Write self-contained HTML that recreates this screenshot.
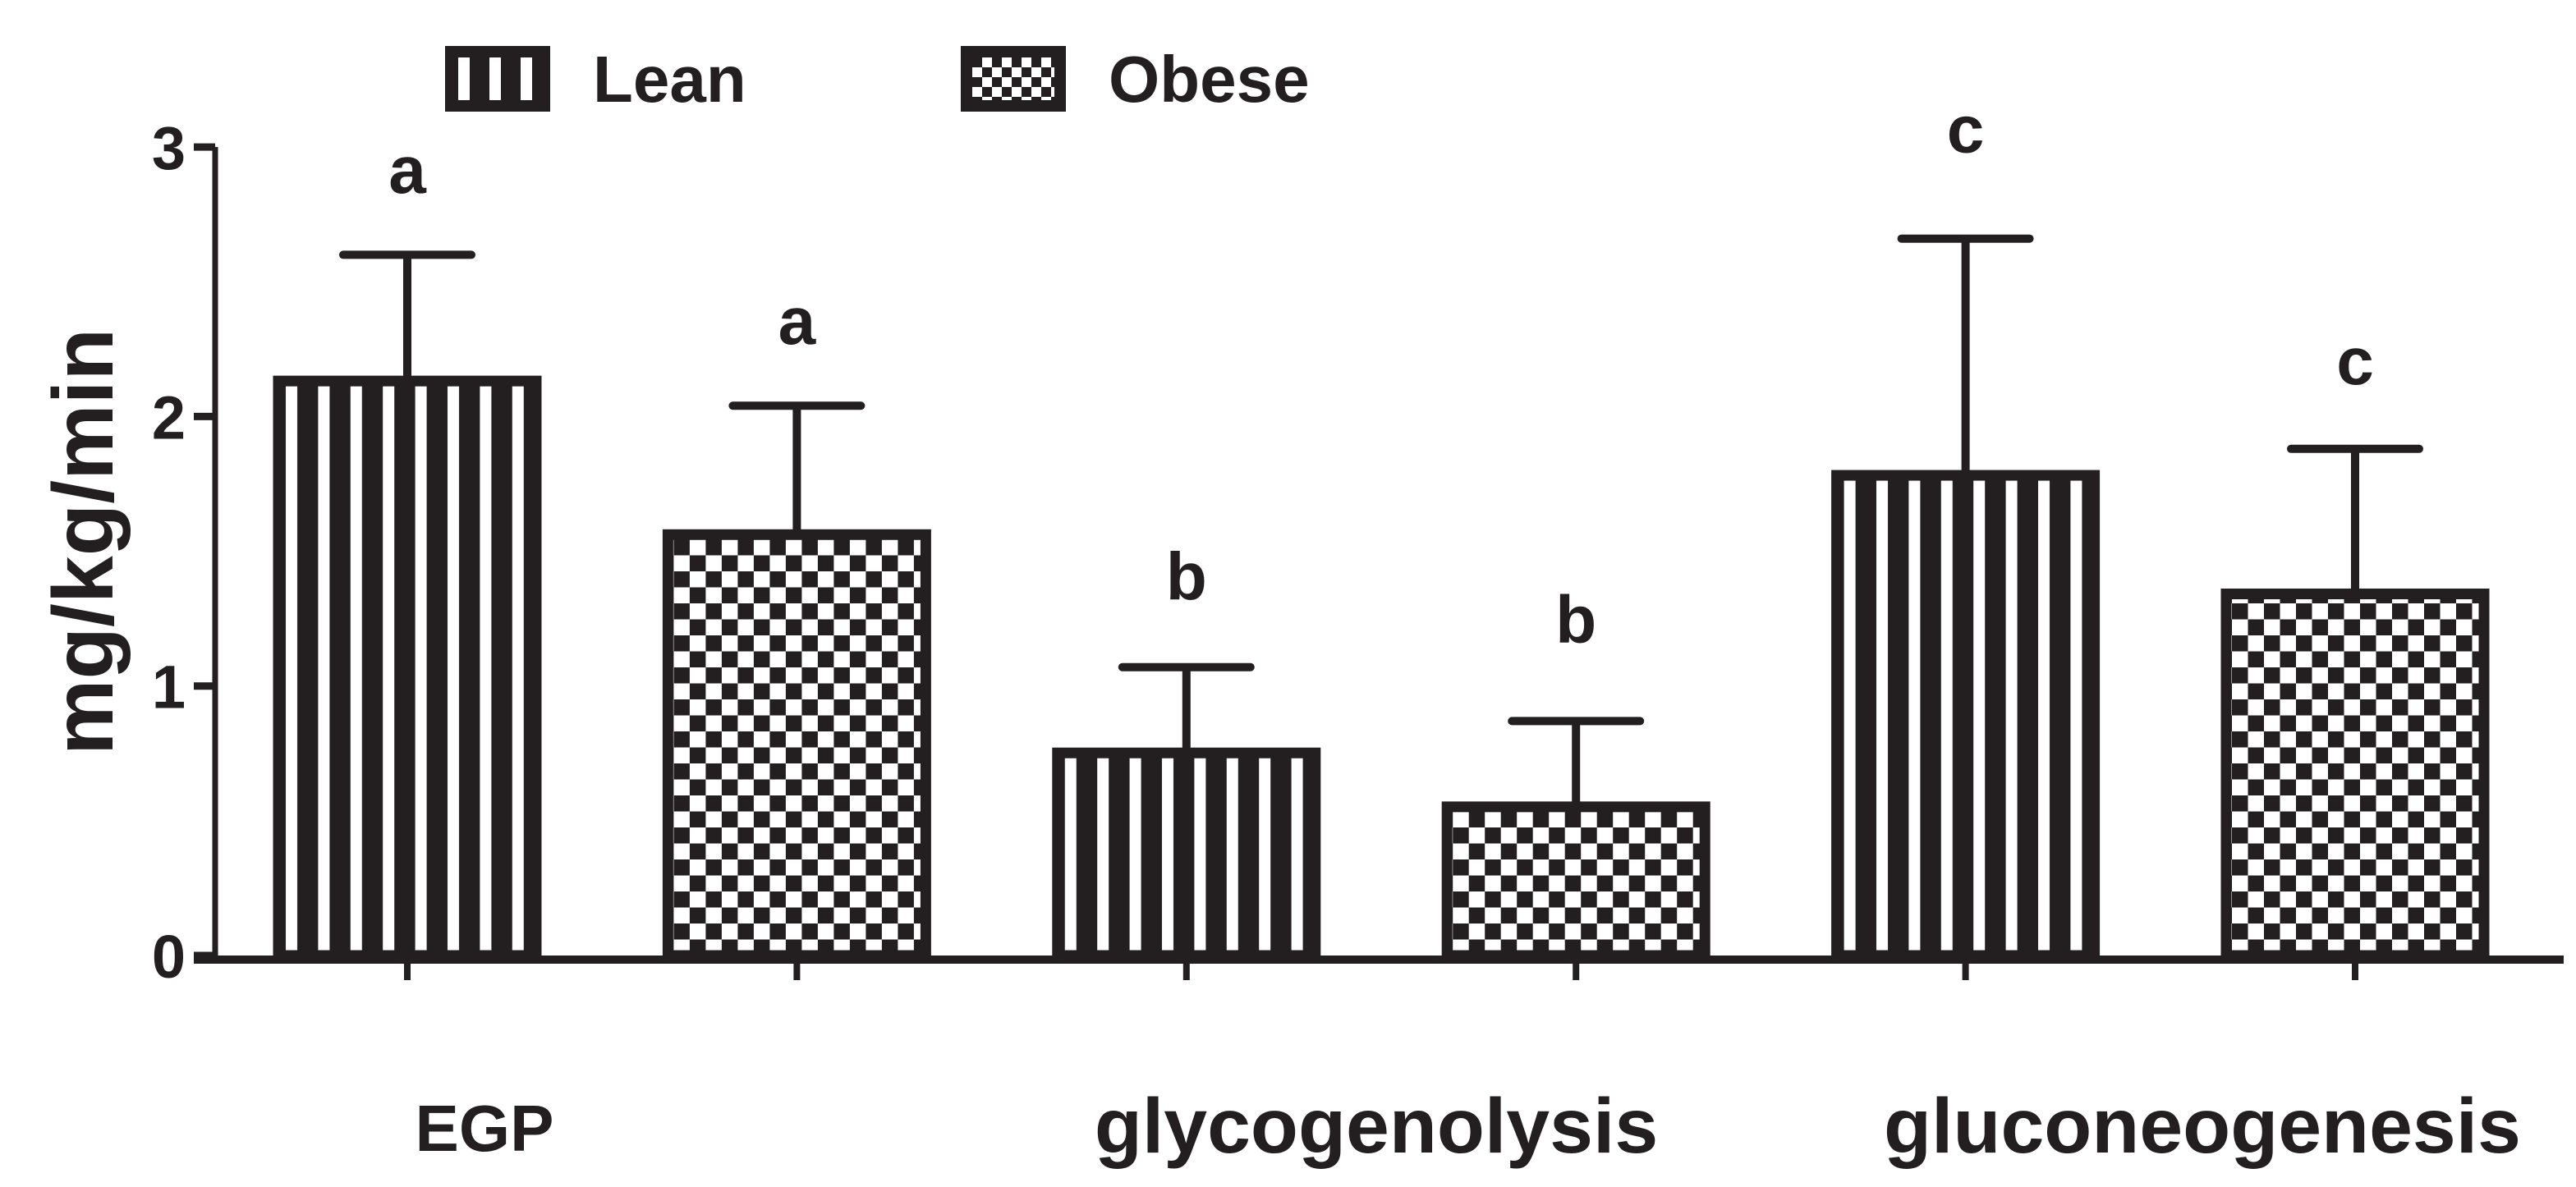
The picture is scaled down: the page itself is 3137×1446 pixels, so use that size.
<!DOCTYPE html>
<html><head><meta charset="utf-8"><style>
html,body{margin:0;padding:0;background:#fff;width:3137px;height:1446px;overflow:hidden}
svg{display:block}
.n{font-family:"Liberation Sans Narrow","Liberation Sans",sans-serif;font-weight:bold;fill:#231f20}
.w{font-family:"Liberation Sans",sans-serif;font-weight:bold;fill:#231f20}
</style></head><body>
<svg id="chart" width="3137" height="1446" viewBox="0 0 3137 1446" xmlns="http://www.w3.org/2000/svg">
<defs id="defs"></defs>
<g id="legend"></g>
<g id="axes"></g>
<g id="bars"></g>
<text class="w" font-size="104" text-anchor="middle" transform="translate(137,660) rotate(-90)">mg/kg/min</text>
</svg>
<script>
const categories = ["EGP", "glycogenolysis", "gluconeogenesis"];
const series = ["Lean", "Obese"];
const leanValues = [2.15, 0.77, 1.80];
const obeseValues = [1.58, 0.57, 1.36];
const leanErr = [2.60, 1.07, 2.66];
const obeseErr = [2.04, 0.87, 1.88];
const leanLetters = ["a", "b", "c"];
const obeseLetters = ["a", "b", "c"];
const leanLetterY = [2.83, 1.32, 2.98];
const obeseLetterY = [2.27, 1.16, 2.12];
const yTicks = [0, 1, 2, 3];

const NS = "http://www.w3.org/2000/svg";
const C = "#231f20";
const y0 = 1164, unit = 328.3;
const yS = v => y0 - v * unit;
const firstCenter = 496, step = 474.4, barW = 326;
const xS = i => firstCenter + i * step;
function mk(tag, attrs, parent){const e=document.createElementNS(NS,tag);for(const k in attrs)e.setAttribute(k,attrs[k]);parent.appendChild(e);return e;}
const defs = document.getElementById('defs');
let pid = 0;
function stripePat(x0){
  const id='s'+(pid++);
  const p=mk('pattern',{id:id,patternUnits:'userSpaceOnUse',x:x0,y:0,width:39.4,height:100},defs);
  mk('rect',{x:0,y:0,width:39.4,height:100,fill:C},p);
  mk('rect',{x:12,y:0,width:14,height:100,fill:'#fff'},p);
  return id;
}
function checkPat(x0,yb,s){
  const id='c'+(pid++);
  const p=mk('pattern',{id:id,patternUnits:'userSpaceOnUse',x:x0,y:yb,width:2*s,height:2*s},defs);
  mk('rect',{x:0,y:0,width:2*s,height:2*s,fill:'#fff'},p);
  mk('rect',{x:0,y:0,width:s,height:s,fill:C},p);
  mk('rect',{x:s,y:s,width:s,height:s,fill:C},p);
  return id;
}
const ax = document.getElementById('axes');
let e = mk('line',{x1:262,y1:yS(3),x2:262,y2:y0,stroke:C,'stroke-width':7},ax);


e = mk('line',{x1:236,y1:y0+5,x2:3122,y2:y0+5,stroke:C,'stroke-width':10},ax);


yTicks.forEach(t=>{
  const y=yS(t);
  let l=mk('line',{x1:236,y1:y,x2:262,y2:y,stroke:C,'stroke-width':9},ax);
  
  
  let tx=mk('text',{x:226,y:y+27,'text-anchor':'end','font-size':74,class:'n'},ax);
  tx.textContent=t;
  
  
});
for(let i=0;i<6;i++){
  let l=mk('line',{x1:xS(i),y1:y0+5,x2:xS(i),y2:y0+30,stroke:C,'stroke-width':8},ax);
  
  
}
const catLabelX = [590, 1676, 2682];
categories.forEach((c,i)=>{
  const isFirst = i===0;
  let tx=mk('text',{x:catLabelX[i],y:isFirst?1402:1404,'text-anchor':'middle','font-size':isFirst?80:95,class:'w'},ax);
  tx.textContent=c;
  
  
});
const bg = document.getElementById('bars');
function drawBar(idx,val,err,letter,ly,lean){
  const cx=xS(idx), x=cx-barW/2, top=yS(val);
  let s=mk('line',{x1:cx,y1:yS(err),x2:cx,y2:top,stroke:C,'stroke-width':10},bg);
  
  
  let cap=mk('line',{x1:cx-78,y1:yS(err),x2:cx+78,y2:yS(err),stroke:C,'stroke-width':10,'stroke-linecap':'round'},bg);
  
  
  const fid = lean ? stripePat(x+3) : checkPat(x+13, y0, 19.5);
  let r=mk('rect',{x:x+6,y:top+6,width:barW-12,height:y0-top-6,fill:'url(#'+fid+')',stroke:C,'stroke-width':13},bg);
  
  
  let t=mk('text',{x:cx,y:yS(ly),'text-anchor':'middle','font-size':82,class:'n'},bg);
  t.textContent=letter;
  
  
}
categories.forEach((c,i)=>{
  drawBar(2*i,leanValues[i],leanErr[i],leanLetters[i],leanLetterY[i],true);
  drawBar(2*i+1,obeseValues[i],obeseErr[i],obeseLetters[i],obeseLetterY[i],false);
});
const lg=document.getElementById('legend');
const legX=[542,1170], legTX=[722,1350];
series.forEach((s,i)=>{
  const g=mk('g',{},lg);
  
  
  const bx=legX[i];
  mk('rect',{x:bx,y:56,width:128,height:80,fill:C},g);
  if(i===0){
    [0,1,2].forEach(k=>mk('rect',{x:bx+16+k*38,y:70,width:14,height:52,fill:'#fff'},g));
  } else {
    const id=checkPat(bx+14,70,12);
    mk('rect',{x:bx+14,y:70,width:100,height:52,fill:'url(#'+id+')'},g);
  }
  let t=mk('text',{x:legTX[i],y:124,'font-size':80,class:'n'},g);
  t.textContent=s;
});
</script>
</body></html>
